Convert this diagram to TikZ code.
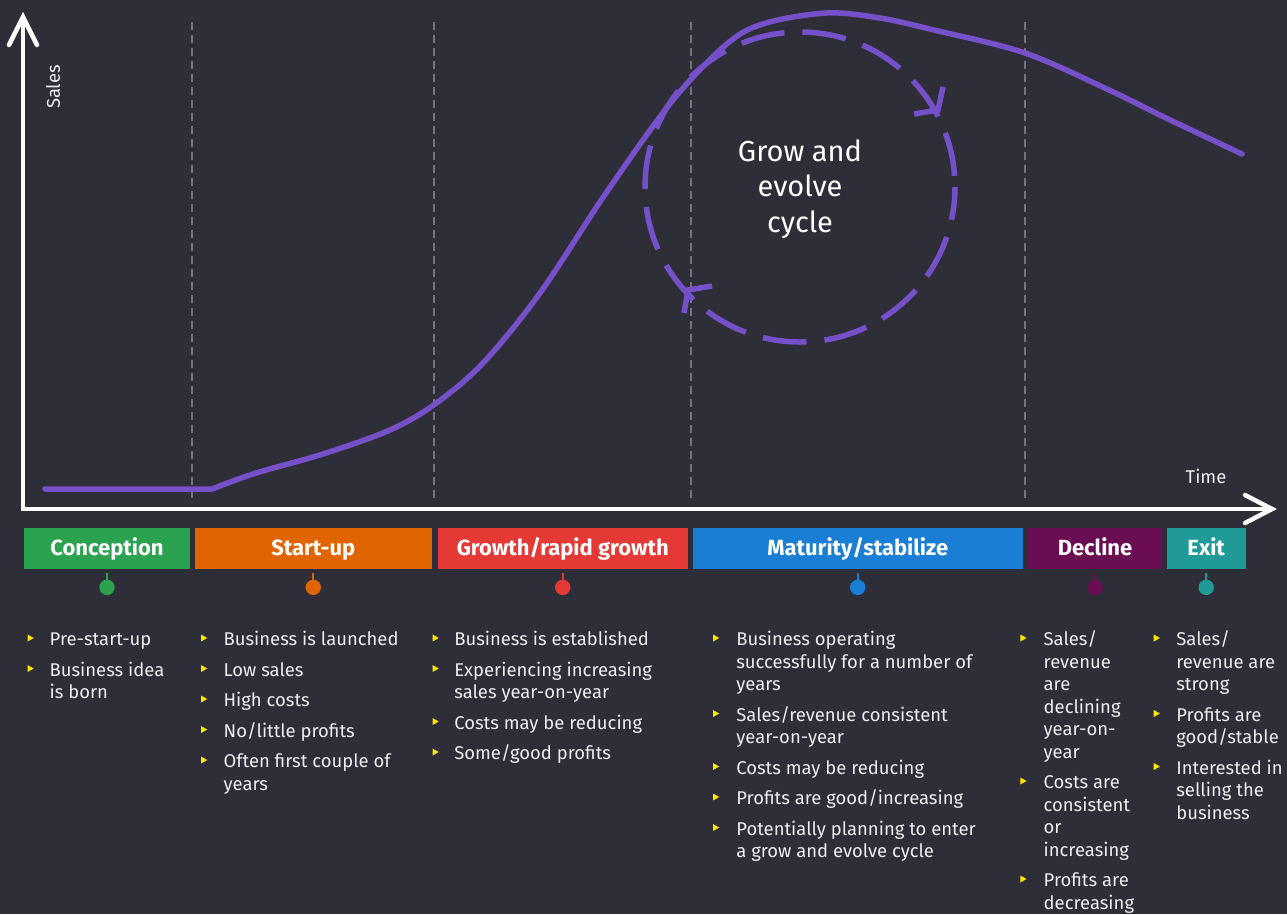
\documentclass[tikz,border=0pt]{standalone}
\usepackage{fontspec}
\setmainfont{Fira Sans}
\definecolor{bg}{HTML}{2E2E38}
\definecolor{lila}{HTML}{7550C8}
\definecolor{gridc}{HTML}{747480}
\definecolor{cgreen}{HTML}{2BA24F}
\definecolor{corange}{HTML}{E06400}
\definecolor{cred}{HTML}{E53935}
\definecolor{cblue}{HTML}{1A7FD4}
\definecolor{cplum}{HTML}{6A0D52}
\definecolor{cteal}{HTML}{1F9A96}
\definecolor{cyel}{HTML}{FFE600}
\definecolor{txtc}{HTML}{EDEDF0}
\begin{document}
\begin{tikzpicture}[x=0.02cm,y=-0.02cm, line join=round, line cap=round,
    txt/.style={anchor=base west,inner sep=0pt,text=txtc,font=\fontsize{10.5}{12.6}\selectfont},
    bar/.style={fill=#1,minimum height=0.82cm,inner sep=0pt,text height=8.6pt,text depth=0pt,text=white,font=\fontsize{12.5}{15}\selectfont\bfseries},
    axis/.style={white,line width=0.09cm,line join=miter},
    cyc/.style={lila,line width=0.11cm,line cap=butt}]
    \fill[bg] (0,0) rectangle (1287,914);
    \useasboundingbox (0,0) rectangle (1287,914);
    \foreach \x in {192,434,691,1025} \draw[gridc,line width=0.04cm,line cap=butt,dash pattern=on 0.16cm off 0.1cm] (\x,22)--(\x,500);
    \draw[axis] (23,17)--(23,509)--(1272,509);
    \draw[axis] (9,45)--(23,17)--(37,45);
    \draw[axis] (1245,495)--(1272,509)--(1245,523);
    \node[txt,anchor=center,rotate=90] (sales) at (53,87) {Sales};
    \node[txt,anchor=center] (time) at (1206,476) {Time};
    % sales curve
    \draw[lila,line width=0.11cm] (45,489)--(212,489)--plot[smooth,tension=0.55] coordinates {(212,489) (256,473) (323,454) (390,430) (435,404) (483,363) (540,293) (606,193) (673,100) (728,43) (766,23) (827,13) (880,18) (934,30) (1025,53) (1109,90) (1166,118) (1242,154)};
    \draw[cyc,dash pattern=on 0.88cm off 0.36cm,dash phase=0.22cm] (800,187) circle (155);
    \draw[cyc,line join=miter] (943,87)--(938,110)--(914,114);
    \draw[cyc,line join=miter] (712,286)--(688,290)--(684,313);
    \node[text=white,align=center,font=\fontsize{16.5}{20.1}\selectfont] (cycle) at (800,189) {Grow and\\evolve\\cycle};
    % stages
    \node[bar=cgreen,minimum width=3.32cm] (conc) at (107,548) {Conception};
    \node[bar=corange,minimum width=4.75cm] (start) at (313.25,548) {Start-up};
    \node[bar=cred,minimum width=5.01cm] (growth) at (562.75,548) {Growth/rapid growth};
    \node[bar=cblue,minimum width=6.61cm] (mature) at (857.75,548) {Maturity/stabilize};
    \node[bar=cplum,minimum width=2.69cm] (decline) at (1095,548) {Decline};
    \node[bar=cteal,minimum width=1.58cm] (exit) at (1206.2,548) {Exit};
    \foreach \n/\col in {conc/cgreen,start/corange,growth/cred,mature/cblue,decline/cplum,exit/cteal}{
        \draw[\col,line width=0.045cm,line cap=butt] (\n.south) ++(0,4.5)--++(0,9);
        \fill[\col] (\n.south) ++(0,18.5) circle (7.7);
    }
    % bullets
    \foreach \x/\y in {30.5/645.5,30.5/676,204/645.5,204/676,204/706.5,204/737,204/767.5,435.5/645.5,435.5/676,435.5/729,435.5/759.5,
        716/645.5,716/721,716/774,716/804.5,716/835,1023.3/645.5,1023.3/788.5,1023.3/886.5,1156.7/645.5,1156.7/721,1156.7/774}
        \fill[cyel] (\x-3,\y-11)--++(6.2,3.5)--++(-6.2,3.5)--cycle;
    \foreach \y/\t [count=\i] in {645.5/Pre-start-up,676/Business idea,698.5/is born}
        \node[txt] (a\i) at (49.3,\y) {\t};
    \foreach \y/\t [count=\i] in {645.5/Business is launched,676/Low sales,706.5/High costs,737/{No/little profits},767.5/Often first couple of,790/years}
        \node[txt] (b\i) at (223.3,\y) {\t};
    \foreach \y/\t [count=\i] in {645.5/Business is established,676/Experiencing increasing,698.5/sales year-on-year,729/Costs may be reducing,759.5/{Some/good profits}}
        \node[txt] (c\i) at (454,\y) {\t};
    \foreach \y/\t [count=\i] in {645.5/Business operating,668/successfully for a number of,690.5/years,721/{Sales/revenue consistent},743.5/year-on-year,
        774/Costs may be reducing,804.5/{Profits are good/increasing},835/Potentially planning to enter,857.5/a grow and evolve cycle}
        \node[txt] (d\i) at (736,\y) {\t};
    \foreach \y/\t [count=\i] in {645.5/{Sales/},668/revenue,690.5/are,713/declining,735.5/year-on-,758/year,
        788.5/Costs are,811/consistent,833.5/or,856/increasing,886.5/Profits are,909/decreasing}
        \node[txt] (e\i) at (1043.3,\y) {\t};
    \foreach \y/\t [count=\i] in {645.5/{Sales/},668/revenue are,690.5/strong,721/Profits are,743.5/{good/stable},774/Interested in,796.5/selling the,819/business}
        \node[txt] (f\i) at (1176,\y) {\t};
\end{tikzpicture}
\end{document}
